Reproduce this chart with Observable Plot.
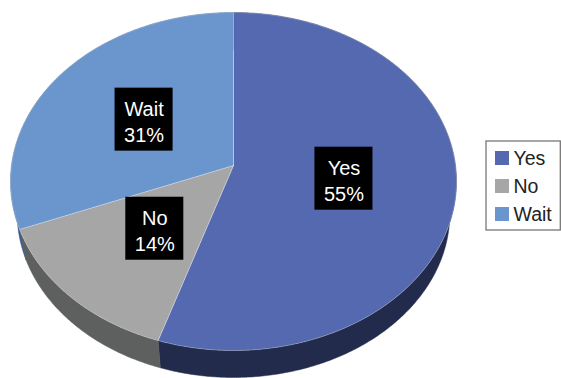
<!DOCTYPE html>
<html><head><meta charset="utf-8">
<script src="https://cdn.jsdelivr.net/npm/d3@7"></script>
<script src="https://cdn.jsdelivr.net/npm/@observablehq/plot@0.6"></script>
<style>body{margin:0;background:#fff;} #chart svg{display:block;}</style>
</head><body><div id="chart"></div>
<script>
// ---- data ----
const categories = ["Yes", "No", "Wait"];
const values = [55, 14, 31];
const topColors = ["#5469B0", "#A6A6A6", "#6A95CD"];
const sideColors = ["#222B4B", "#5E5F5F", "#3A5A85"];

// ---- layout ----
const W = 561, H = 378;
const G = {cx: 233, cy: 165, rx: 222, ry: 167.5, k: 0.0947, depth: 32.5, shrink: 0.97};
function proj(theta, f = 1, bottom = false) {
  const m = bottom ? G.shrink : 1;
  const u = Math.sin(theta) * f, v = Math.cos(theta) * f;
  const s = 1 / (1 + G.k * v);
  return [G.cx + G.rx * m * u * s, G.cy + (bottom ? G.depth : 0) - G.ry * m * v * s];
}
const arcs = d3.pie().sort(null).value(d => d)(values);
const step = Math.PI / 360;
function arcPts(a0, a1, bottom) {
  const pts = [];
  const n = Math.max(2, Math.ceil((a1 - a0) / step));
  for (let i = 0; i <= n; i++) pts.push(proj(a0 + (a1 - a0) * i / n, 1, bottom));
  return pts;
}
const sides = [], tops = [];
arcs.forEach((a, i) => {
  const t = arcPts(a.startAngle, a.endAngle, false);
  const b = arcPts(a.startAngle, a.endAngle, true).reverse();
  [...t, ...b, t[0]].forEach(([x, y]) => sides.push({id: categories[i], x, y, c: sideColors[i]}));
  const c = proj(0, 0, false);
  [c, ...t, c].forEach(([x, y]) => tops.push({id: categories[i], x, y, c: topColors[i]}));
});

// labels at mid-angle, half radius
const ctx = document.createElement("canvas").getContext("2d");
const FS = 20;
ctx.font = `${FS}px "Liberation Sans", Arial, sans-serif`;
const labels = arcs.map((a, i) => {
  const [x, y] = proj((a.startAngle + a.endAngle) / 2, 0.5, false);
  const l1 = categories[i], l2 = `${values[i]}%`;
  const w = Math.max(ctx.measureText(l1).width, ctx.measureText(l2).width) + 18;
  return {x, y, w, h: 63, text: `${l1}\n${l2}`};
});

// legend
const LX = 495, LY0 = 158, LDY = 28;
const legend = categories.map((c, i) => ({c, i, col: topColors[i]}));

const chart = Plot.plot({
  width: W, height: H,
  margin: 0,
  x: {domain: [0, W], range: [0, W], axis: null},
  y: {domain: [0, H], range: [0, H], axis: null},
  color: {type: "identity"},
  style: {fontFamily: '"Liberation Sans", Arial, sans-serif', background: "white"},
  marks: [
    Plot.line(sides, {x: "x", y: "y", z: "id", fill: "c", stroke: "c", strokeWidth: 0.5}),
    Plot.line(tops, {x: "x", y: "y", z: "id", fill: "c", stroke: "#ffffff", strokeOpacity: 0.35, strokeWidth: 0.8}),
    Plot.rect(labels, {x1: d => d.x - d.w / 2, x2: d => d.x + d.w / 2, y1: d => d.y - d.h / 2, y2: d => d.y + d.h / 2, fill: "black"}),
    Plot.text(labels, {x: "x", y: "y", text: "text", fill: "white", fontSize: FS, lineHeight: 1.3, dy: 1}),
    Plot.rect([0], {x1: 486, x2: 560.3, y1: 141, y2: 230, fill: "white", stroke: "#777", strokeWidth: 1.3}),
    Plot.rect(legend, {x1: LX, x2: LX + 14, y1: d => LY0 + d.i * LDY - 7, y2: d => LY0 + d.i * LDY + 7, fill: "col"}),
    Plot.text(legend, {x: LX + 18, y: d => LY0 + d.i * LDY, text: "c", textAnchor: "start", fill: "#222", fontSize: 19.5})
  ]
});
document.getElementById("chart").appendChild(chart);
</script>
</body></html>
